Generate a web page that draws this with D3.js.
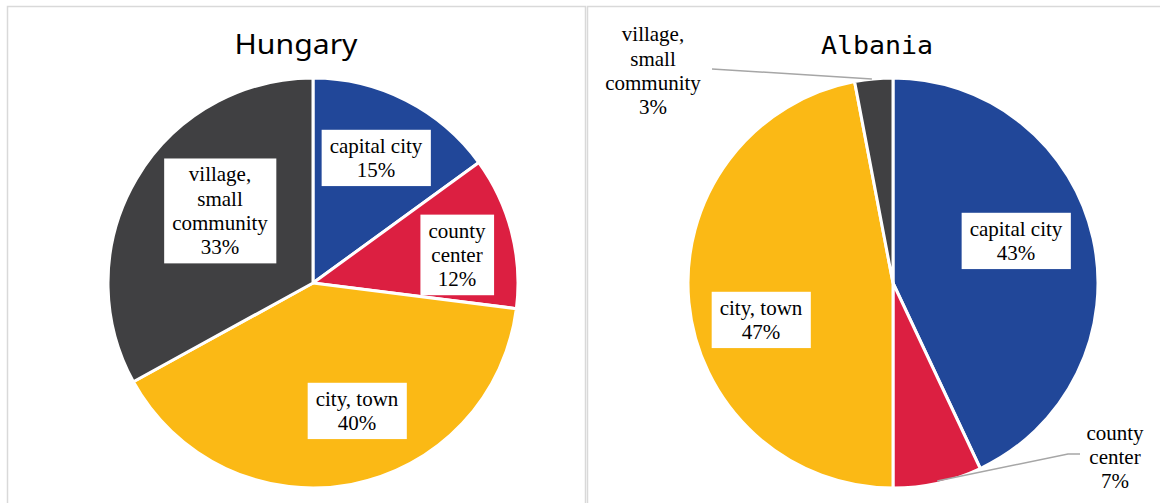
<!DOCTYPE html>
<html>
<head>
<meta charset="utf-8">
<script src="https://cdn.jsdelivr.net/npm/d3@7"></script>
<style>
  body { margin: 0; background: #fff; }
  svg { display: block; }
</style>
</head>
<body>
<svg id="chart" width="1160" height="503"></svg>
<script>
// data
var countries = ["Hungary", "Albania"];
var categories = ["capital city", "county center", "city, town", "village, small community"];
var hungaryValues = [15, 12, 40, 33];
var albaniaValues = [43, 7, 47, 3];
var labelLines = [["capital city"], ["county", "center"], ["city, town"], ["village,", "small", "community"]];

var colors = ["#214799", "#dc1f41", "#fbb915", "#404042"];

// where Excel put each label, offset from the pie centre (px)
var labelPos = {
  Hungary: [[63, -125], [144, -28], [44, 128], [-93, -72]],
  Albania: [[123, -42], [222, 174], [-132, 37], [-240, -212]]
};
var outside = {
  Hungary: [false, false, false, false],
  Albania: [false, true, false, true]
};

var svg = d3.select("#chart");
var R = 205;
var fs = 21, lh = 24.3;

var panels = [
  {name: countries[0], values: hungaryValues, x: 7.5, w: 578, cx: 313, tcx: 296,
   titleFont: "'Noto Sans'", titleSize: 27, titleW: 123},
  {name: countries[1], values: albaniaValues, x: 587.5, w: 600, cx: 893, tcx: 877,
   titleFont: "'DejaVu Sans Mono'", titleSize: 25, titleW: 112}
];

var pie = d3.pie().sort(null).value(function(d) { return d; });
var arc = d3.arc().innerRadius(0).outerRadius(R);

panels.forEach(function(p) {
  var g = svg.append("g");
  g.append("rect")
    .attr("x", p.x).attr("y", 6.5)
    .attr("width", p.w).attr("height", 520)
    .attr("fill", "#fff")
    .attr("stroke", "#d9d9d9")
    .attr("stroke-width", 1.5);

  g.append("text")
    .attr("x", p.tcx).attr("y", 54)
    .attr("text-anchor", "middle")
    .attr("font-family", p.titleFont)
    .attr("font-size", p.titleSize)
    .attr("textLength", p.titleW)
    .attr("lengthAdjust", "spacingAndGlyphs")
    .attr("fill", "#000")
    .text(p.name);

  var pg = g.append("g").attr("transform", "translate(" + p.cx + ",283)");
  var arcs = pie(p.values);

  pg.selectAll("path.slice")
    .data(arcs)
    .enter().append("path")
      .attr("class", "slice")
      .attr("d", arc)
      .attr("fill", function(d, i) { return colors[i]; })
      .attr("stroke", "#fff")
      .attr("stroke-width", 3)
      .attr("stroke-linejoin", "round");

  arcs.forEach(function(d, i) {
    var pos = labelPos[p.name][i];
    var lines = labelLines[i].concat([p.values[i] + "%"]);
    var lg = pg.append("g");

    if (outside[p.name][i]) {
      // leader line from the label to the slice edge
      var mid = (d.startAngle + d.endAngle) / 2;
      var ex = R * 0.99 * Math.sin(mid), ey = -R * 0.99 * Math.cos(mid);
      var pts;
      if (pos[0] > 0)
        pts = [[pos[0] - 35, pos[1] - 3], [pos[0] - 47, pos[1] - 3], [ex, ey]];
      else
        pts = [[pos[0] + 59, pos[1] - 2], [ex - 2, ey - 2]];
      pg.append("path")
        .attr("d", d3.line()(pts))
        .attr("fill", "none")
        .attr("stroke", "#a6a6a6")
        .attr("stroke-width", 1.5);
    }

    var box = lg.append("rect").attr("fill", "#fff");
    var t = lg.append("text")
      .attr("text-anchor", "middle")
      .attr("font-family", "'Liberation Serif', 'Times New Roman', serif")
      .attr("font-size", fs)
      .attr("fill", "#000");
    lines.forEach(function(s, k) {
      t.append("tspan")
        .attr("x", pos[0])
        .attr("y", pos[1] - (lines.length - 1) / 2 * lh + k * lh + fs * 0.33)
        .text(s);
    });
    if (!outside[p.name][i]) {
      var bb = t.node().getBBox();
      box.attr("x", bb.x - 8).attr("y", bb.y - 4)
        .attr("width", bb.width + 16).attr("height", bb.height + 8);
    } else {
      box.remove();
    }
  });
});
</script>
</body>
</html>
